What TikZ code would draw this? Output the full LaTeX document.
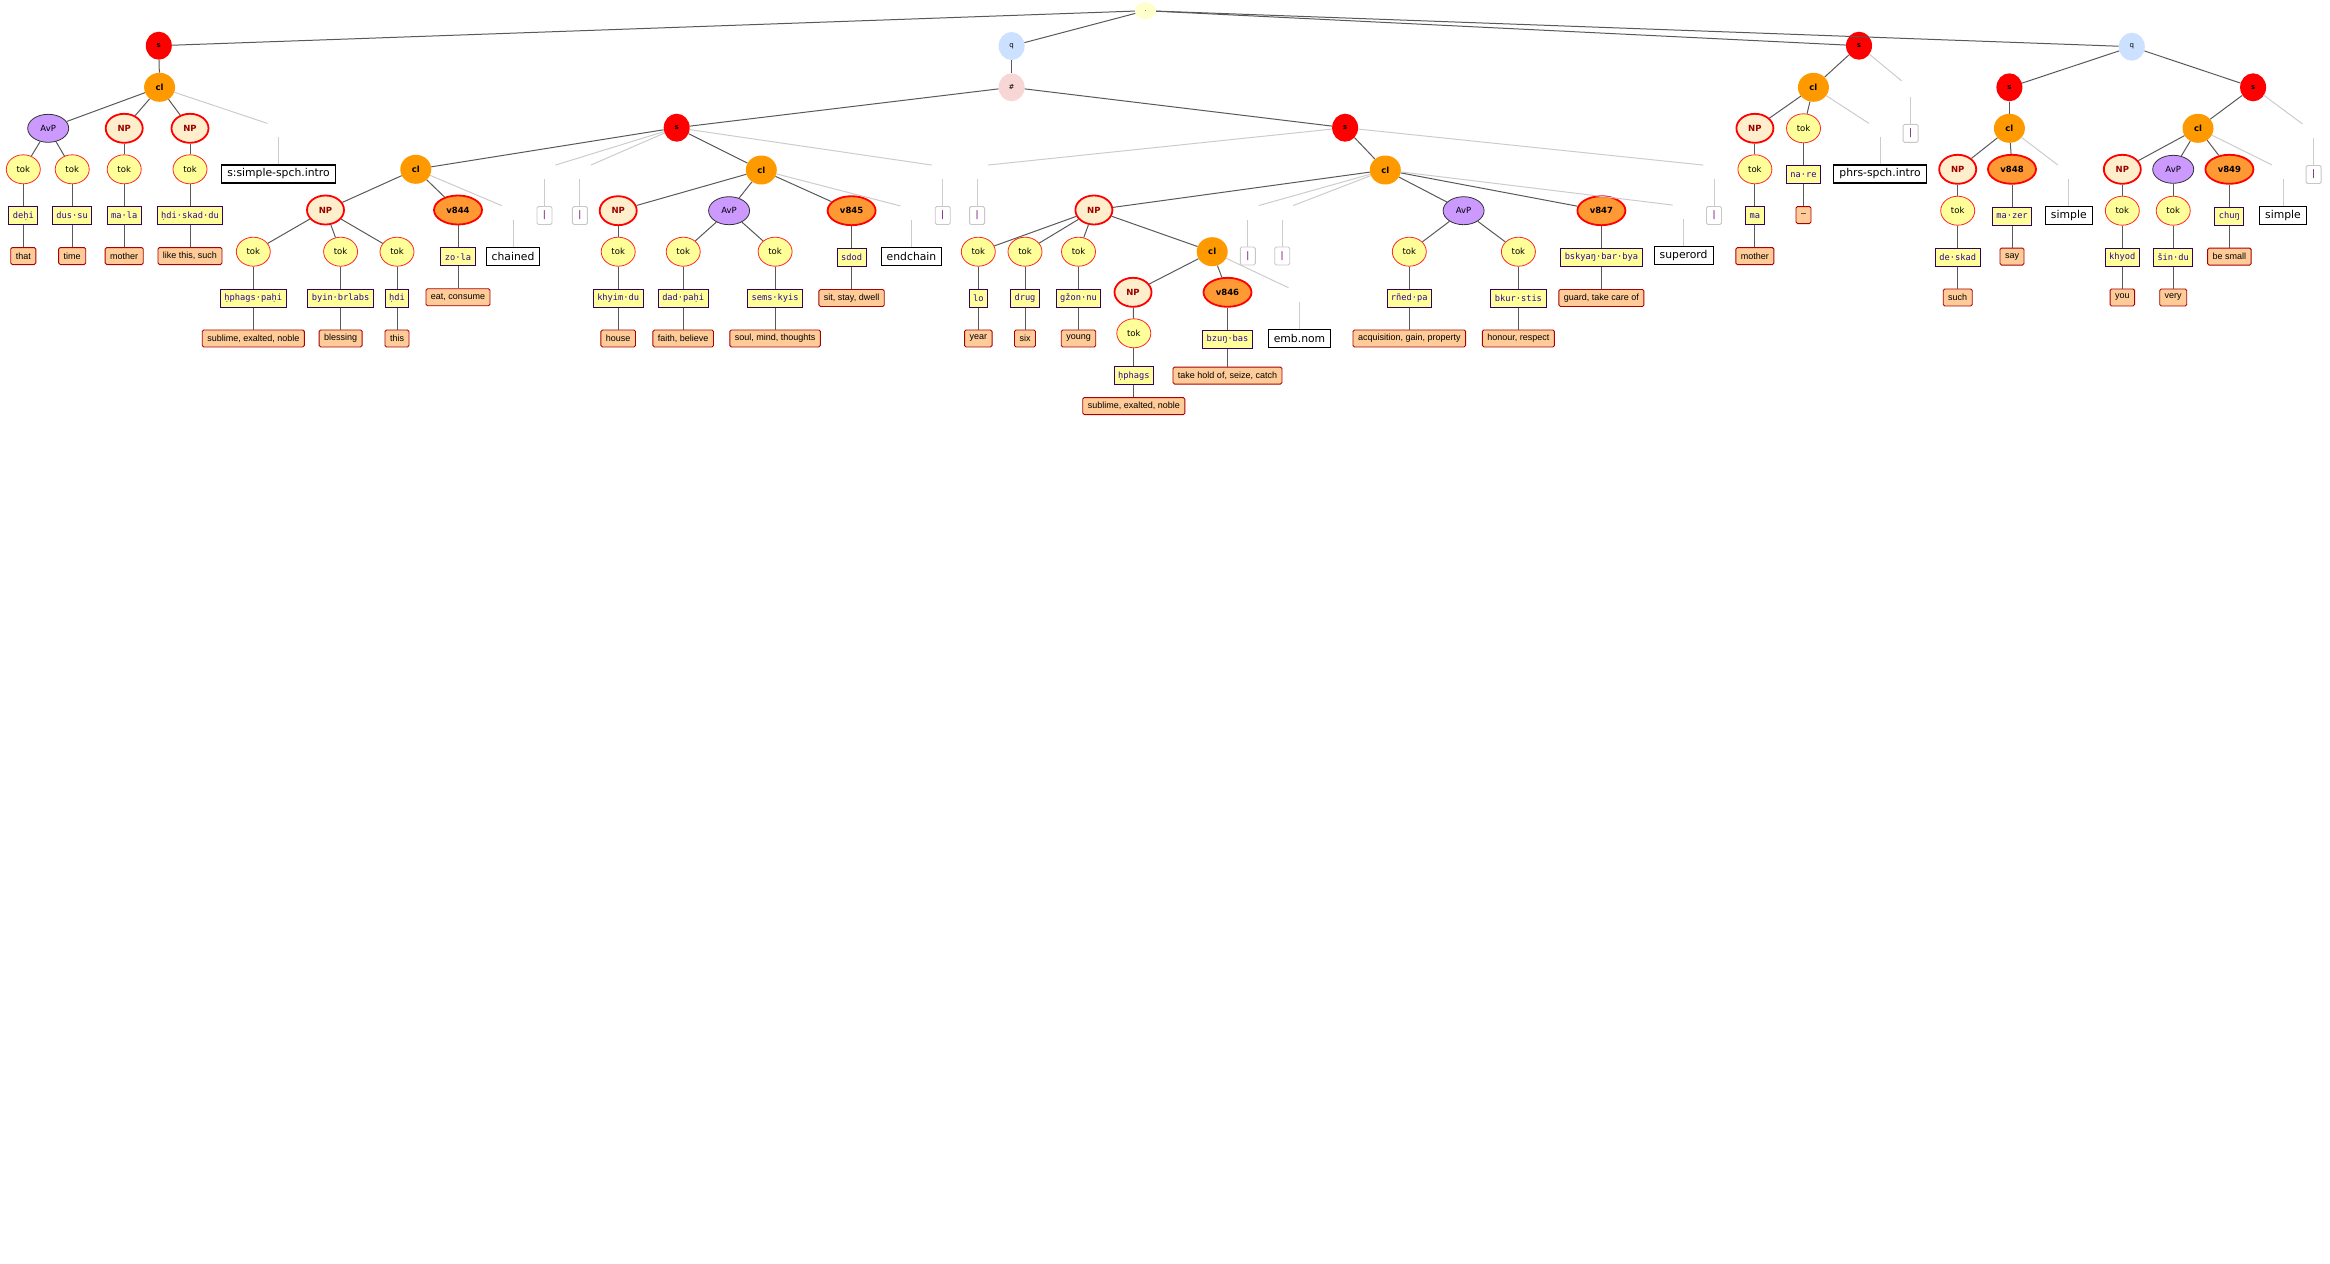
\documentclass[tikz,border=0pt]{standalone}
\usepackage{fontspec}
\setmainfont{DejaVu Sans}
\newfontfamily\wordfont{DejaVu Sans Mono}
\newfontfamily\glossfont{Liberation Sans}
\usepackage{xcolor}
\usepackage{tikz}
\usetikzlibrary{shapes.geometric, positioning, calc}
\definecolor{rootfill}{HTML}{FFFFCC}
\definecolor{sred}{HTML}{FF0000}
\definecolor{qfill}{HTML}{CCE0FF}
\definecolor{hashfill}{HTML}{F8D6D6}
\definecolor{clfill}{HTML}{FF9900}
\definecolor{avpfill}{HTML}{CC99FF}
\definecolor{npfill}{HTML}{FFEECC}
\definecolor{npred}{HTML}{990000}
\definecolor{tokfill}{HTML}{FFFF99}
\definecolor{vfill}{HTML}{FF9933}
\definecolor{wordline}{HTML}{330066}
\definecolor{wordtext}{HTML}{330099}
\definecolor{glossfill}{HTML}{FFCC99}
\definecolor{glossline}{HTML}{AA0000}
\definecolor{barpurple}{HTML}{660066}

\begin{document}
\begin{tikzpicture}[x=1pt, y=-1pt, edge/.style={draw=black!65, line width=1pt}, grayedge/.style={draw=black!20, line width=1pt}, rootnode/.style={ellipse, fill=rootfill, minimum width=21pt, minimum height=17pt, inner sep=0pt, font=\fontsize{6}{6}\selectfont}, snode/.style={ellipse, fill=sred, minimum width=26pt, minimum height=28pt, inner sep=0pt, font=\bfseries\fontsize{7}{7}\selectfont}, qnode/.style={snode, fill=qfill, font=\fontsize{7}{7}\selectfont}, hashnode/.style={snode, fill=hashfill, font=\fontsize{7}{7}\selectfont}, clnode/.style={ellipse, fill=clfill, minimum width=31pt, minimum height=29pt, inner sep=0pt, font=\bfseries\fontsize{8.5}{9}\selectfont}, avpnode/.style={ellipse, draw=black!80, fill=avpfill, line width=0.8pt, minimum width=41pt, minimum height=28pt, inner sep=0pt, font=\fontsize{8.5}{9}\selectfont}, npnode/.style={ellipse, draw=red, fill=npfill, line width=1.8pt, minimum width=37pt, minimum height=29pt, inner sep=0pt, text=npred, font=\bfseries\fontsize{8.5}{9}\selectfont}, toknode/.style={ellipse, draw=red!85, fill=tokfill, line width=0.8pt, minimum width=34pt, minimum height=29pt, inner sep=0pt, font=\fontsize{8.5}{9}\selectfont}, vnode/.style={ellipse, draw=red, fill=vfill, line width=1.8pt, minimum width=48pt, minimum height=29pt, inner sep=0pt, font=\bfseries\fontsize{8.5}{9}\selectfont}, wordnode/.style={rectangle, draw=wordline, fill=tokfill, line width=0.9pt, minimum height=18pt, inner xsep=4pt, inner ysep=0pt, text=wordtext, font=\wordfont\fontsize{8.7}{9}\selectfont}, glossnode/.style={rectangle, rounded corners=1.5pt, draw=glossline, fill=glossfill, line width=0.9pt, minimum height=17pt, inner xsep=5pt, inner ysep=0pt, font=\glossfont\fontsize{9}{10}\selectfont}, labelnode/.style={rectangle, draw=black, fill=white, line width=1.1pt, minimum height=18pt, inner xsep=5.5pt, inner ysep=0pt, font=\fontsize{10.8}{11}\selectfont}, barnode/.style={rectangle, rounded corners=1.5pt, draw=black!22, fill=white, line width=0.9pt, minimum width=15pt, minimum height=18pt, inner sep=0pt, text=barpurple, font=\fontsize{9}{9}\selectfont}]
    \useasboundingbox (0,0) rectangle (2330,1264);

    %Nodes
    \node[rootnode](root) at (1145.5,10.7){.};
    \node[snode](s_one) at (158.8,45.7){s};
    \node[qnode](q_one) at (1011.6,46){q};
    \node[snode](s_four) at (1859,45.7){s};
    \node[qnode](q_two) at (2131.8,46.7){q};

    \node[clnode](cl_one) at (159.6,87.3){cl};
    \node[avpnode](avp_one) at (48.2,128.3){AvP};
    \node[npnode](np_one) at (124.2,128.3){NP};
    \node[npnode](np_two) at (190,128.3){NP};
    \node[toknode](tok_one) at (23.3,169.3){tok};
    \node[toknode](tok_two) at (72.2,169.3){tok};
    \node[toknode](tok_three) at (124.2,169.3){tok};
    \node[toknode](tok_four) at (190,169.3){tok};
    \node[wordnode](w_dehi)[below=22pt of tok_one]{deḥi};
    \node[glossnode](g_that)[below=22pt of w_dehi]{that};
    \node[wordnode](w_dussu)[below=22pt of tok_two]{dus·su};
    \node[glossnode](g_time)[below=22pt of w_dussu]{time};
    \node[wordnode](w_mala)[below=22pt of tok_three]{ma·la};
    \node[glossnode](g_mother)[below=22pt of w_mala]{mother};
    \node[wordnode](w_hdiskaddu)[below=22pt of tok_four]{ḥdi·skad·du};
    \node[glossnode](g_likethis)[below=22pt of w_hdiskaddu]{like this, such};
    \node[labelnode](lab_intro) at (278.5,174){s:simple-spch.intro};

    \node[hashnode](hash) at (1011.6,87.3){\#};
    \node[snode](s_two) at (676.7,127.7){s};
    \node[snode](s_three) at (1345.1,127.7){s};
    \node[clnode](cl_two) at (415.8,169.3){cl};
    \node[clnode](cl_three) at (761.3,170){cl};
    \node[barnode](bar_one) at (544.5,215.5){|};
    \node[barnode](bar_two) at (579.9,215.5){|};
    \node[barnode](bar_three) at (942.7,215.5){|};
    \node[npnode](np_three) at (325.5,210){NP};
    \node[vnode](v_844) at (458,210){v844};
    \node[labelnode](lab_chained) at (513,256.3){chained};
    \node[toknode](tok_five) at (253.3,251.7){tok};
    \node[toknode](tok_six) at (340.6,251.7){tok};
    \node[toknode](tok_seven) at (397,251.7){tok};
    \node[wordnode](w_hphagspahi)[below=22pt of tok_five]{ḥphags·paḥi};
    \node[glossnode](g_sublime)[below=22pt of w_hphagspahi]{sublime, exalted, noble};
    \node[wordnode](w_byinbrlabs)[below=22pt of tok_six]{byin·brlabs};
    \node[glossnode](g_blessing)[below=22pt of w_byinbrlabs]{blessing};
    \node[wordnode](w_hdi)[below=22pt of tok_seven]{ḥdi};
    \node[glossnode](g_this)[below=22pt of w_hdi]{this};
    \node[wordnode](w_zola)[below=22pt of v_844]{zo·la};
    \node[glossnode](g_eat)[below=22pt of w_zola]{eat, consume};
    \node[npnode](np_four) at (618.2,210.7){NP};
    \node[avpnode](avp_two) at (729.1,210.7){AvP};
    \node[vnode](v_845) at (851.6,210.7){v845};
    \node[labelnode](lab_endchain) at (911.5,256.5){endchain};
    \node[toknode](tok_eight) at (618.2,251.7){tok};
    \node[toknode](tok_nine) at (683.2,251.7){tok};
    \node[toknode](tok_ten) at (775.1,251.7){tok};
    \node[wordnode](w_khyimdu)[below=22pt of tok_eight]{khyim·du};
    \node[glossnode](g_house)[below=22pt of w_khyimdu]{house};
    \node[wordnode](w_dadpahi)[below=22pt of tok_nine]{dad·paḥi};
    \node[glossnode](g_faith)[below=22pt of w_dadpahi]{faith, believe};
    \node[wordnode](w_semskyis)[below=22pt of tok_ten]{sems·kyis};
    \node[glossnode](g_soul)[below=22pt of w_semskyis]{soul, mind, thoughts};
    \node[wordnode](w_sdod)[below=22pt of v_845]{sdod};
    \node[glossnode](g_sit)[below=22pt of w_sdod]{sit, stay, dwell};

    \node[barnode](bar_four) at (977.1,215.5){|};
    \node[clnode](cl_four) at (1385.3,170){cl};
    \node[barnode](bar_five) at (1714,215.5){|};
    \node[npnode](np_five) at (1093.9,210){NP};
    \node[barnode](bar_six) at (1247.8,256){|};
    \node[barnode](bar_seven) at (1282.2,256){|};
    \node[avpnode](avp_three) at (1463.6,210.7){AvP};
    \node[vnode](v_847) at (1601.4,210.7){v847};
    \node[labelnode](lab_superord) at (1683.6,255.6){superord};
    \node[toknode](tok_eleven) at (978.3,251.7){tok};
    \node[toknode](tok_twelve) at (1025,251.7){tok};
    \node[toknode](tok_thirteen) at (1078.5,251.7){tok};
    \node[clnode](cl_five) at (1212.2,251.7){cl};
    \node[wordnode](w_lo)[below=22pt of tok_eleven]{lo};
    \node[glossnode](g_year)[below=22pt of w_lo]{year};
    \node[wordnode](w_drug)[below=22pt of tok_twelve]{drug};
    \node[glossnode](g_six)[below=22pt of w_drug]{six};
    \node[wordnode](w_gzonnu)[below=22pt of tok_thirteen]{gžon·nu};
    \node[glossnode](g_young)[below=22pt of w_gzonnu]{young};
    \node[npnode](np_six) at (1133,292.3){NP};
    \node[vnode](v_846) at (1227.5,292.3){v846};
    \node[labelnode](lab_embnom) at (1299.5,338.3){emb.nom};
    \node[toknode](tok_fourteen) at (1133.8,333.3){tok};
    \node[wordnode](w_hphags)[below=18pt of tok_fourteen]{ḥphags};
    \node[glossnode](g_sublime_b)[below=12pt of w_hphags]{sublime, exalted, noble};
    \node[wordnode](w_bzungbas)[below=22pt of v_846]{bzuŋ·bas};
    \node[glossnode](g_takehold)[below=18pt of w_bzungbas]{take hold of, seize, catch};
    \node[toknode](tok_fifteen) at (1409.3,251.7){tok};
    \node[toknode](tok_sixteen) at (1518.4,251.7){tok};
    \node[wordnode](w_rnedpa)[below=22pt of tok_fifteen]{rñed·pa};
    \node[glossnode](g_acquisition)[below=22pt of w_rnedpa]{acquisition, gain, property};
    \node[wordnode](w_bkurstis)[below=22pt of tok_sixteen]{bkur·stis};
    \node[glossnode](g_honour)[below=22pt of w_bkurstis]{honour, respect};
    \node[wordnode](w_bskyang)[below=22pt of v_847]{bskyaŋ·bar·bya};
    \node[glossnode](g_guard)[below=22pt of w_bskyang]{guard, take care of};

    \node[clnode](cl_six) at (1813.4,87.3){cl};
    \node[barnode](bar_eight) at (1910.6,133.3){|};
    \node[npnode](np_seven) at (1754.9,128.3){NP};
    \node[toknode](tok_eighteen) at (1803.5,128.3){tok};
    \node[labelnode](lab_phrs) at (1880,174){phrs-spch.intro};
    \node[toknode](tok_seventeen) at (1754.9,169.3){tok};
    \node[wordnode](w_ma)[below=22pt of tok_seventeen]{ma};
    \node[glossnode](g_mother_b)[below=22pt of w_ma]{mother};
    \node[wordnode](w_nare)[below=22pt of tok_eighteen]{na·re};
    \node[glossnode](g_dash)[below=22pt of w_nare]{–};

    \node[snode](s_five) at (2009.4,87.3){s};
    \node[snode](s_six) at (2253.1,87.3){s};
    \node[clnode](cl_seven) at (2009.4,128.3){cl};
    \node[npnode](np_eight) at (1957.7,169.3){NP};
    \node[vnode](v_848) at (2012,169.3){v848};
    \node[labelnode](lab_simple_a) at (2068.8,215.5){simple};
    \node[toknode](tok_nineteen) at (1957.7,210.7){tok};
    \node[wordnode](w_deskad)[below=22pt of tok_nineteen]{de·skad};
    \node[glossnode](g_such)[below=22pt of w_deskad]{such};
    \node[wordnode](w_mazer)[below=22pt of v_848]{ma·zer};
    \node[glossnode](g_say)[below=22pt of w_mazer]{say};
    \node[clnode](cl_eight) at (2198,128.3){cl};
    \node[barnode](bar_nine) at (2313.6,174.5){|};
    \node[npnode](np_nine) at (2122.3,169.3){NP};
    \node[avpnode](avp_four) at (2173.2,169.3){AvP};
    \node[vnode](v_849) at (2229.4,169.3){v849};
    \node[labelnode](lab_simple_b) at (2283,215.5){simple};
    \node[toknode](tok_twenty) at (2122.3,210.7){tok};
    \node[toknode](tok_twentyone) at (2173.2,210.7){tok};
    \node[wordnode](w_khyod)[below=22pt of tok_twenty]{khyod};
    \node[glossnode](g_you)[below=22pt of w_khyod]{you};
    \node[wordnode](w_sindu)[below=22pt of tok_twentyone]{šin·du};
    \node[glossnode](g_very)[below=22pt of w_sindu]{very};
    \node[wordnode](w_chung)[below=22pt of v_849]{chuŋ};
    \node[glossnode](g_small)[below=22pt of w_chung]{be small};

    %Ends of the grey links
    \coordinate (intro_top) at ($(lab_intro.north)+(0,-27)$);
    \coordinate (intro_end) at ($(lab_intro.north)+(-11,-41)$);
    \coordinate (bar_one_top) at ($(bar_one.north)+(0,-27)$);
    \coordinate (bar_one_end) at ($(bar_one.north)+(11,-41)$);
    \coordinate (bar_two_top) at ($(bar_two.north)+(0,-27)$);
    \coordinate (bar_two_end) at ($(bar_two.north)+(11,-41)$);
    \coordinate (bar_three_top) at ($(bar_three.north)+(0,-27)$);
    \coordinate (bar_three_end) at ($(bar_three.north)+(-11,-41)$);
    \coordinate (chained_top) at ($(lab_chained.north)+(0,-27)$);
    \coordinate (chained_end) at ($(lab_chained.north)+(-11,-41)$);
    \coordinate (endchain_top) at ($(lab_endchain.north)+(0,-27)$);
    \coordinate (endchain_end) at ($(lab_endchain.north)+(-11,-41)$);
    \coordinate (bar_four_top) at ($(bar_four.north)+(0,-27)$);
    \coordinate (bar_four_end) at ($(bar_four.north)+(11,-41)$);
    \coordinate (bar_five_top) at ($(bar_five.north)+(0,-27)$);
    \coordinate (bar_five_end) at ($(bar_five.north)+(-11,-41)$);
    \coordinate (bar_six_top) at ($(bar_six.north)+(0,-27)$);
    \coordinate (bar_six_end) at ($(bar_six.north)+(11,-41)$);
    \coordinate (bar_seven_top) at ($(bar_seven.north)+(0,-27)$);
    \coordinate (bar_seven_end) at ($(bar_seven.north)+(11,-41)$);
    \coordinate (superord_top) at ($(lab_superord.north)+(0,-27)$);
    \coordinate (superord_end) at ($(lab_superord.north)+(-11,-41)$);
    \coordinate (embnom_top) at ($(lab_embnom.north)+(0,-27)$);
    \coordinate (embnom_end) at ($(lab_embnom.north)+(-11,-41)$);
    \coordinate (bar_eight_top) at ($(bar_eight.north)+(0,-27)$);
    \coordinate (bar_eight_end) at ($(bar_eight.north)+(-9,-43)$);
    \coordinate (phrs_top) at ($(lab_phrs.north)+(0,-27)$);
    \coordinate (phrs_end) at ($(lab_phrs.north)+(-11,-41)$);
    \coordinate (simple_a_top) at ($(lab_simple_a.north)+(0,-27)$);
    \coordinate (simple_a_end) at ($(lab_simple_a.north)+(-11,-41)$);
    \coordinate (bar_nine_top) at ($(bar_nine.north)+(0,-27)$);
    \coordinate (bar_nine_end) at ($(bar_nine.north)+(-11,-41)$);
    \coordinate (simple_b_top) at ($(lab_simple_b.north)+(0,-27)$);
    \coordinate (simple_b_end) at ($(lab_simple_b.north)+(-11,-41)$);

    %Lines
    \draw[edge] (root) -- (s_one);
    \draw[edge] (root) -- (q_one);
    \draw[edge] (root) -- (s_four);
    \draw[edge] (root) -- (q_two);
    \draw[edge] (s_one) -- (cl_one);
    \draw[edge] (cl_one) -- (avp_one);
    \draw[edge] (cl_one) -- (np_one);
    \draw[edge] (cl_one) -- (np_two);
    \draw[edge] (avp_one) -- (tok_one);
    \draw[edge] (avp_one) -- (tok_two);
    \draw[edge] (np_one) -- (tok_three);
    \draw[edge] (np_two) -- (tok_four);
    \draw[edge] (q_one) -- (hash);
    \draw[edge] (hash) -- (s_two);
    \draw[edge] (hash) -- (s_three);
    \draw[edge] (s_two) -- (cl_two);
    \draw[edge] (s_two) -- (cl_three);
    \draw[edge] (cl_two) -- (np_three);
    \draw[edge] (cl_two) -- (v_844);
    \draw[edge] (np_three) -- (tok_five);
    \draw[edge] (np_three) -- (tok_six);
    \draw[edge] (np_three) -- (tok_seven);
    \draw[edge] (cl_three) -- (np_four);
    \draw[edge] (cl_three) -- (avp_two);
    \draw[edge] (cl_three) -- (v_845);
    \draw[edge] (np_four) -- (tok_eight);
    \draw[edge] (avp_two) -- (tok_nine);
    \draw[edge] (avp_two) -- (tok_ten);
    \draw[edge] (s_three) -- (cl_four);
    \draw[edge] (cl_four) -- (np_five);
    \draw[edge] (cl_four) -- (avp_three);
    \draw[edge] (cl_four) -- (v_847);
    \draw[edge] (np_five) -- (tok_eleven);
    \draw[edge] (np_five) -- (tok_twelve);
    \draw[edge] (np_five) -- (tok_thirteen);
    \draw[edge] (np_five) -- (cl_five);
    \draw[edge] (cl_five) -- (np_six);
    \draw[edge] (cl_five) -- (v_846);
    \draw[edge] (np_six) -- (tok_fourteen);
    \draw[edge] (avp_three) -- (tok_fifteen);
    \draw[edge] (avp_three) -- (tok_sixteen);
    \draw[edge] (s_four) -- (cl_six);
    \draw[edge] (cl_six) -- (np_seven);
    \draw[edge] (cl_six) -- (tok_eighteen);
    \draw[edge] (np_seven) -- (tok_seventeen);
    \draw[edge] (q_two) -- (s_five);
    \draw[edge] (q_two) -- (s_six);
    \draw[edge] (s_five) -- (cl_seven);
    \draw[edge] (cl_seven) -- (np_eight);
    \draw[edge] (cl_seven) -- (v_848);
    \draw[edge] (np_eight) -- (tok_nineteen);
    \draw[edge] (s_six) -- (cl_eight);
    \draw[edge] (cl_eight) -- (np_nine);
    \draw[edge] (cl_eight) -- (avp_four);
    \draw[edge] (cl_eight) -- (v_849);
    \draw[edge] (np_nine) -- (tok_twenty);
    \draw[edge] (avp_four) -- (tok_twentyone);

    \draw[edge] (tok_one.south) -- (w_dehi.north);
    \draw[edge] (w_dehi.south) -- (g_that.north);
    \draw[edge] (tok_two.south) -- (w_dussu.north);
    \draw[edge] (w_dussu.south) -- (g_time.north);
    \draw[edge] (tok_three.south) -- (w_mala.north);
    \draw[edge] (w_mala.south) -- (g_mother.north);
    \draw[edge] (tok_four.south) -- (w_hdiskaddu.north);
    \draw[edge] (w_hdiskaddu.south) -- (g_likethis.north);
    \draw[edge] (tok_five.south) -- (w_hphagspahi.north);
    \draw[edge] (w_hphagspahi.south) -- (g_sublime.north);
    \draw[edge] (tok_six.south) -- (w_byinbrlabs.north);
    \draw[edge] (w_byinbrlabs.south) -- (g_blessing.north);
    \draw[edge] (tok_seven.south) -- (w_hdi.north);
    \draw[edge] (w_hdi.south) -- (g_this.north);
    \draw[edge] (v_844.south) -- (w_zola.north);
    \draw[edge] (w_zola.south) -- (g_eat.north);
    \draw[edge] (tok_eight.south) -- (w_khyimdu.north);
    \draw[edge] (w_khyimdu.south) -- (g_house.north);
    \draw[edge] (tok_nine.south) -- (w_dadpahi.north);
    \draw[edge] (w_dadpahi.south) -- (g_faith.north);
    \draw[edge] (tok_ten.south) -- (w_semskyis.north);
    \draw[edge] (w_semskyis.south) -- (g_soul.north);
    \draw[edge] (v_845.south) -- (w_sdod.north);
    \draw[edge] (w_sdod.south) -- (g_sit.north);
    \draw[edge] (tok_eleven.south) -- (w_lo.north);
    \draw[edge] (w_lo.south) -- (g_year.north);
    \draw[edge] (tok_twelve.south) -- (w_drug.north);
    \draw[edge] (w_drug.south) -- (g_six.north);
    \draw[edge] (tok_thirteen.south) -- (w_gzonnu.north);
    \draw[edge] (w_gzonnu.south) -- (g_young.north);
    \draw[edge] (tok_fourteen.south) -- (w_hphags.north);
    \draw[edge] (w_hphags.south) -- (g_sublime_b.north);
    \draw[edge] (v_846.south) -- (w_bzungbas.north);
    \draw[edge] (w_bzungbas.south) -- (g_takehold.north);
    \draw[edge] (tok_fifteen.south) -- (w_rnedpa.north);
    \draw[edge] (w_rnedpa.south) -- (g_acquisition.north);
    \draw[edge] (tok_sixteen.south) -- (w_bkurstis.north);
    \draw[edge] (w_bkurstis.south) -- (g_honour.north);
    \draw[edge] (v_847.south) -- (w_bskyang.north);
    \draw[edge] (w_bskyang.south) -- (g_guard.north);
    \draw[edge] (tok_seventeen.south) -- (w_ma.north);
    \draw[edge] (w_ma.south) -- (g_mother_b.north);
    \draw[edge] (tok_eighteen.south) -- (w_nare.north);
    \draw[edge] (w_nare.south) -- (g_dash.north);
    \draw[edge] (tok_nineteen.south) -- (w_deskad.north);
    \draw[edge] (w_deskad.south) -- (g_such.north);
    \draw[edge] (v_848.south) -- (w_mazer.north);
    \draw[edge] (w_mazer.south) -- (g_say.north);
    \draw[edge] (tok_twenty.south) -- (w_khyod.north);
    \draw[edge] (w_khyod.south) -- (g_you.north);
    \draw[edge] (tok_twentyone.south) -- (w_sindu.north);
    \draw[edge] (w_sindu.south) -- (g_very.north);
    \draw[edge] (v_849.south) -- (w_chung.north);
    \draw[edge] (w_chung.south) -- (g_small.north);

    \draw[grayedge] (cl_one) -- (intro_end);
    \draw[grayedge] (lab_intro.north) -- (intro_top);
    \draw[grayedge] (s_two) -- (bar_one_end);
    \draw[grayedge] (bar_one.north) -- (bar_one_top);
    \draw[grayedge] (s_two) -- (bar_two_end);
    \draw[grayedge] (bar_two.north) -- (bar_two_top);
    \draw[grayedge] (s_two) -- (bar_three_end);
    \draw[grayedge] (bar_three.north) -- (bar_three_top);
    \draw[grayedge] (cl_two) -- (chained_end);
    \draw[grayedge] (lab_chained.north) -- (chained_top);
    \draw[grayedge] (cl_three) -- (endchain_end);
    \draw[grayedge] (lab_endchain.north) -- (endchain_top);
    \draw[grayedge] (s_three) -- (bar_four_end);
    \draw[grayedge] (bar_four.north) -- (bar_four_top);
    \draw[grayedge] (s_three) -- (bar_five_end);
    \draw[grayedge] (bar_five.north) -- (bar_five_top);
    \draw[grayedge] (cl_four) -- (bar_six_end);
    \draw[grayedge] (bar_six.north) -- (bar_six_top);
    \draw[grayedge] (cl_four) -- (bar_seven_end);
    \draw[grayedge] (bar_seven.north) -- (bar_seven_top);
    \draw[grayedge] (cl_four) -- (superord_end);
    \draw[grayedge] (lab_superord.north) -- (superord_top);
    \draw[grayedge] (cl_five) -- (embnom_end);
    \draw[grayedge] (lab_embnom.north) -- (embnom_top);
    \draw[grayedge] (s_four) -- (bar_eight_end);
    \draw[grayedge] (bar_eight.north) -- (bar_eight_top);
    \draw[grayedge] (cl_six) -- (phrs_end);
    \draw[grayedge] (lab_phrs.north) -- (phrs_top);
    \draw[grayedge] (cl_seven) -- (simple_a_end);
    \draw[grayedge] (lab_simple_a.north) -- (simple_a_top);
    \draw[grayedge] (s_six) -- (bar_nine_end);
    \draw[grayedge] (bar_nine.north) -- (bar_nine_top);
    \draw[grayedge] (cl_eight) -- (simple_b_end);
    \draw[grayedge] (lab_simple_b.north) -- (simple_b_top);
\end{tikzpicture}
\end{document}
